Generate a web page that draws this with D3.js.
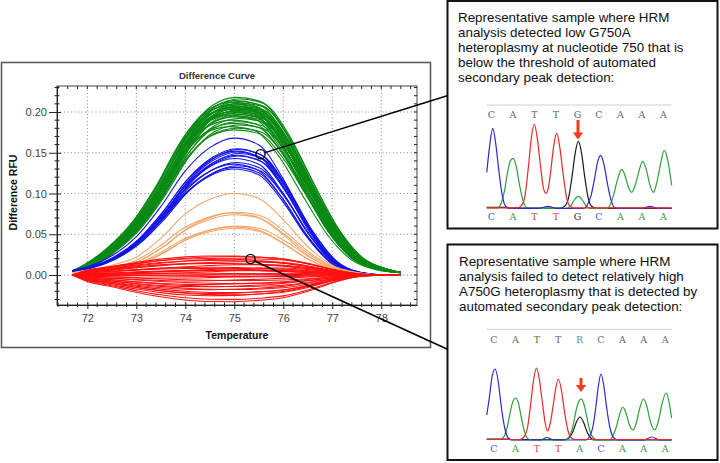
<!DOCTYPE html>
<html><head><meta charset="utf-8">
<script src="https://cdn.jsdelivr.net/npm/d3@7"></script>
<style>body{margin:0;background:#fff}svg{display:block}</style>
</head><body>
<script>
// ---------- DATA ----------
const temps = [71.7, 72.0, 72.5, 73.0, 73.5, 74.0, 74.5, 75.0, 75.5, 76.0, 76.5, 77.0, 77.5, 78.0, 78.4];
const greenProfile  = [0.025, 0.056, 0.16, 0.31, 0.53, 0.79, 0.95, 0.995, 0.97, 0.80, 0.53, 0.27, 0.10, 0.035, 0.015];
const blueProfile   = [0.035, 0.06, 0.14, 0.28, 0.50, 0.76, 0.93, 1.0, 0.95, 0.70, 0.36, 0.11, 0.02, 0.0, 0.0];
const orangeProfile = [0.03, 0.06, 0.12, 0.22, 0.45, 0.75, 0.93, 1.0, 0.94, 0.68, 0.35, 0.12, 0.03, 0.0, 0.0];
const redEarly      = [0, 0.3, 0.52, 0.75, 0.92, 1.0, 0.98, 0.9, 0.78, 0.62, 0.4, 0.18, 0.04, 0, 0];
const redLate       = [0, 0.15, 0.3, 0.45, 0.6, 0.75, 0.88, 0.97, 1.0, 0.98, 0.75, 0.38, 0.1, 0.01, 0];

const greenPeaks = [0.219,0.217,0.215,0.214,0.213,0.212,0.211,0.210,0.209,0.208,0.208,0.207,0.206,0.206,0.205,0.204,0.204,0.203,0.202,0.201,0.201,0.200,0.199,0.198,0.197,0.196,0.195,0.193,0.191,0.189,0.187,0.185,0.183,0.181,0.179];
const greenShift = [0.05,0.1,0.02,0.08,-0.04,0.12,0.0,0.06,-0.08,0.1,0.03,-0.02,0.09,-0.06,0.04,0.11,-0.1,0.07,0.01,-0.05,0.12,0.03,-0.03,0.08,-0.08,0.05,0.0,0.1,-0.06,0.06,-0.02,0.09,-0.1,0.04,0.0];
const bluePeaks = [0.168,0.155,0.154,0.152,0.151,0.149,0.147,0.146,0.143,0.138,0.136,0.134,0.132,0.130];
const blueShift = [0.0,0.05,0.08,0.02,0.06,0.1,0.04,0.07,0.0,0.03,-0.03,0.05,0.0,-0.02];
const orangePeaks = [0.100,0.077,0.076,0.074,0.060,0.059,0.057];
const orangeShift = [0.0,0.05,-0.05,0.02,0.06,-0.03,0.0];
const redE = [0.014,0.010,0.016,0.006,0.012,0.004,0.009,0.002,0.007,-0.002,0.004,0.001,-0.004,0.003,-0.003,0.000,-0.006,-0.002,-0.008,-0.004,-0.010,-0.006,-0.012,-0.008,-0.013,-0.011,-0.015,-0.012,-0.017,-0.016,-0.018,0.008,-0.001,0.011];
const redL = [0.011,0.014,0.005,0.015,0.007,0.013,0.006,0.011,0.003,0.010,0.002,0.005,0.009,-0.001,0.004,-0.002,0.003,-0.005,0.001,-0.007,-0.002,-0.009,-0.003,-0.011,-0.006,-0.012,-0.009,-0.014,-0.010,-0.016,-0.017,0.000,0.001,0.004];

const xTicks = [72, 73, 74, 75, 76, 77, 78];
const yTicks = [0.00, 0.05, 0.10, 0.15, 0.20];

// chromatogram data: [base index, signal height]
const seqTop1 = ["C","A","T","T","G","C","A","A","A"];
const seqBot1 = ["C","A","T","T","G","C","A","A","A"];
const seqTop2 = ["C","A","T","T","R","C","A","A","A"];
const seqBot2 = ["C","A","T","T","A","C","A","A","A"];
const blue1 = [[-0.22,36],[-0.1,60],[0.06,80],[0.2,64],[0.34,38],[0.5,13],[0.66,2],[0.85,0],[2.2,0],[2.64,2],[3.0,0],[4.3,0],[4.45,3],[4.62,12],[4.78,28],[4.93,46],[5.08,53],[5.23,44],[5.38,26],[5.55,9],[5.72,1],[5.9,0],[7.0,0],[7.37,2],[7.75,0],[8.38,0]];
const green1 = [[-0.22,0.5],[0.3,0.5],[0.45,5],[0.6,17],[0.74,35],[0.87,47],[1.01,50],[1.15,42],[1.29,25],[1.45,9],[1.62,1],[1.8,0],[3.5,0],[3.7,3],[3.87,9],[4.04,12],[4.21,9],[4.38,3],[4.6,0],[5.4,0],[5.55,5],[5.7,15],[5.85,28],[6.06,39],[6.22,32],[6.37,21],[6.52,16],[6.67,22],[6.82,34],[7.03,47],[7.2,39],[7.36,24],[7.53,16],[7.68,25],[7.84,42],[8.04,58],[8.2,48],[8.38,23]];
const red1 = [[-0.22,0.5],[1.2,0.5],[1.4,3],[1.57,14],[1.72,42],[1.85,70],[1.99,84],[2.13,70],[2.27,44],[2.4,22],[2.53,15],[2.66,22],[2.76,38],[2.89,62],[3.03,75],[3.17,62],[3.31,38],[3.48,12],[3.65,2],[3.8,0.5],[8.38,0.5]];
const black1 = [[-0.22,1],[0.6,1],[0.8,0.3],[3.2,0.3],[3.4,2],[3.6,12],[3.76,34],[3.89,55],[4.04,67],[4.19,55],[4.32,34],[4.49,11],[4.66,2],[4.85,0],[8.38,0]];
const blue2 = [[-0.34,25],[-0.22,42],[-0.1,62],[0.05,71],[0.2,58],[0.33,35],[0.5,12],[0.67,2],[0.85,0],[2.2,0],[2.46,2.5],[2.8,0],[4.3,0],[4.45,3],[4.62,13],[4.76,33],[4.87,53],[5.0,66],[5.14,53],[5.26,33],[5.42,12],[5.6,2],[5.8,0],[7.0,0],[7.37,3],[7.75,0],[8.3,0]];
const green2 = [[-0.34,0.5],[0.3,0.5],[0.48,4],[0.63,14],[0.77,29],[0.89,39],[1.01,42],[1.14,37],[1.28,22],[1.43,8],[1.6,1],[1.8,0],[3.3,0],[3.5,3],[3.67,12],[3.8,26],[3.93,37],[4.07,41],[4.2,36],[4.33,24],[4.48,9],[4.65,2],[4.85,0],[5.4,0],[5.55,4],[5.7,12],[5.85,24],[6.01,33],[6.17,27],[6.33,15],[6.5,10],[6.65,17],[6.8,31],[6.98,41],[7.14,34],[7.3,19],[7.5,10],[7.66,17],[7.84,35],[8.04,47],[8.18,38],[8.3,22]];
const red2 = [[-0.34,0.5],[1.2,0.5],[1.4,3],[1.57,13],[1.72,37],[1.85,60],[1.99,72],[2.13,59],[2.27,36],[2.4,16],[2.5,9],[2.62,16],[2.76,34],[2.88,51],[3.01,61],[3.15,50],[3.29,29],[3.45,10],[3.62,2],[3.8,0.5],[8.3,0.5]];
const black2 = [[-0.34,1],[0.6,1],[0.8,0.3],[3.3,0.3],[3.5,2],[3.68,8],[3.85,18],[4.02,23],[4.18,18],[4.35,8],[4.52,2],[4.7,0],[8.3,0]];

const text1 = ["Representative sample where HRM","analysis detected low G750A","heteroplasmy at nucleotide 750 that is","below the threshold of automated","secondary peak detection:"];
const text2 = ["Representative sample where HRM","analysis failed to detect relatively high","A750G heteroplasmy that is detected by","automated secondary peak detection:"];

// ---------- DRAW ----------
const svg = d3.select("body").append("svg").attr("width",720).attr("height",463);
svg.append("rect").attr("width",720).attr("height",463).attr("fill","#fff");

// chart frame
svg.append("rect").attr("x",1.5).attr("y",62.5).attr("width",429).attr("height",285)
  .attr("fill","none").attr("stroke","#555").attr("stroke-width",1.5);

const L=57, R=417, T=86, B=305;
const x = d3.scaleLinear().domain([71.38,78.73]).range([L,R]);
const y = d3.scaleLinear().domain([-0.0368,0.2319]).range([B,T]);

const font = "'Liberation Sans', Arial, sans-serif";

// grid
const g = svg.append("g");
g.selectAll(".gx").data(xTicks).enter().append("line")
  .attr("x1",d=>x(d)).attr("x2",d=>x(d)).attr("y1",T).attr("y2",B)
  .attr("stroke","#8a8a8a").attr("stroke-width",1).attr("stroke-dasharray","1,2.5");
g.selectAll(".gy").data(yTicks).enter().append("line")
  .attr("x1",L).attr("x2",R).attr("y1",d=>y(d)).attr("y2",d=>y(d))
  .attr("stroke","#8a8a8a").attr("stroke-width",1).attr("stroke-dasharray","1,2.5");

// curves
svg.append("clipPath").attr("id","pc").append("rect").attr("x",L).attr("y",T).attr("width",R-L).attr("height",B-T);
const cg = svg.append("g").attr("clip-path","url(#pc)");
const line = d3.line().x(d=>x(d[0])).y(d=>y(d[1])).curve(d3.curveMonotoneX);
function curvePts(profile, amp, shift){
  return temps.map((t,i)=>[ (i===0||i===temps.length-1)? t : t+shift, amp*profile[i] ]);
}
greenPeaks.forEach((a,i)=>cg.append("path").attr("d",line(curvePts(greenProfile,a,greenShift[i])))
  .attr("fill","none").attr("stroke","#0a8a14").attr("stroke-width",1.1));
bluePeaks.forEach((a,i)=>cg.append("path").attr("d",line(curvePts(blueProfile,a,blueShift[i])))
  .attr("fill","none").attr("stroke","#1414e6").attr("stroke-width",1.1));
orangePeaks.forEach((a,i)=>cg.append("path").attr("d",line(curvePts(orangeProfile,a,orangeShift[i])))
  .attr("fill","none").attr("stroke","#f2a66a").attr("stroke-width",1.1));
redE.forEach((e,i)=>{
  const pts = temps.map((t,k)=>[t, e*redEarly[k] + redL[i]*redLate[k]]);
  cg.append("path").attr("d",line(pts)).attr("fill","none").attr("stroke","#ff1010").attr("stroke-width",1.05);
});

// plot border
svg.append("rect").attr("x",L).attr("y",T).attr("width",R-L).attr("height",B-T)
  .attr("fill","none").attr("stroke","#444").attr("stroke-width",1);

// axes
const ax = svg.append("g").attr("transform",`translate(0,${B})`)
  .call(d3.axisBottom(x).tickValues(xTicks).tickFormat(d3.format("d")).tickSizeInner(4).tickSizeOuter(0).tickPadding(5));
ax.select(".domain").attr("stroke","#222");
ax.selectAll(".tick line").attr("y1",-3).attr("stroke","#222");
ax.selectAll("text").attr("font-family",font).attr("font-size",11).attr("fill","#444");
const ay = svg.append("g").attr("transform",`translate(${L},0)`)
  .call(d3.axisLeft(y).tickValues(yTicks).tickFormat(d3.format(".2f")).tickSizeInner(8).tickSizeOuter(0).tickPadding(2));
ay.select(".domain").attr("stroke","#222");
ay.selectAll(".tick line").attr("x1",4).attr("stroke","#222");
ay.selectAll("text").attr("font-family",font).attr("font-size",11).attr("fill","#444");

// minor ticks
const xMinor = d3.range(71.4, 78.71, 0.2).filter(v=>Math.abs(v-Math.round(v))>0.01);
const yMinor = d3.range(-0.03, 0.2301, 0.01).filter(v=>Math.abs(v*20-Math.round(v*20))>0.01);
const mt = svg.append("g").attr("stroke","#222").attr("stroke-width",1);
mt.selectAll(".xb").data(xMinor).enter().append("line").attr("x1",d=>x(d)).attr("x2",d=>x(d)).attr("y1",B-2.5).attr("y2",B+2);
mt.selectAll(".xt").data(xMinor.concat(xTicks)).enter().append("line").attr("x1",d=>x(d)).attr("x2",d=>x(d)).attr("y1",T).attr("y2",T+3);
mt.selectAll(".yl").data(yMinor).enter().append("line").attr("y1",d=>y(d)).attr("y2",d=>y(d)).attr("x1",L-2.5).attr("x2",L+2.5);
mt.selectAll(".yr").data(yMinor.concat(yTicks)).enter().append("line").attr("y1",d=>y(d)).attr("y2",d=>y(d)).attr("x1",R-3).attr("x2",R);

// titles
svg.append("text").attr("x",217).attr("y",78.5).attr("text-anchor","middle")
  .attr("font-family",font).attr("font-weight","bold").attr("font-size",9.5).attr("fill","#333").text("Difference Curve");
svg.append("text").attr("x",237).attr("y",339).attr("text-anchor","middle")
  .attr("font-family",font).attr("font-weight","bold").attr("font-size",10.5).attr("fill","#111").text("Temperature");
svg.append("text").attr("transform","translate(17,192.5) rotate(-90)").attr("text-anchor","middle")
  .attr("font-family",font).attr("font-weight","bold").attr("font-size",10.5).attr("fill","#111").text("Difference RFU");

// callout boxes
svg.append("rect").attr("x",447.5).attr("y",1).attr("width",270).attr("height",227.5)
  .attr("fill","#fff").attr("stroke","#111").attr("stroke-width",2);
svg.append("rect").attr("x",447.5).attr("y",244.5).attr("width",270).attr("height",215.5)
  .attr("fill","#fff").attr("stroke","#111").attr("stroke-width",2);

// callout lines and circles
svg.append("line").attr("x1",265).attr("y1",152.6).attr("x2",448).attr("y2",95.5).attr("stroke","#000").attr("stroke-width",1.5);
svg.append("line").attr("x1",254.5).attr("y1",261).attr("x2",448).attr("y2",349.5).attr("stroke","#000").attr("stroke-width",1.5);
svg.append("circle").attr("cx",260.5).attr("cy",154.2).attr("r",4.6).attr("fill","none").attr("stroke","#000").attr("stroke-width",1.4);
svg.append("circle").attr("cx",250.5).attr("cy",259).attr("r",4.6).attr("fill","none").attr("stroke","#000").attr("stroke-width",1.4);

// box texts
function para(lines, x0, y0){
  svg.append("g").selectAll("text").data(lines).enter().append("text")
    .attr("x",x0).attr("y",(d,i)=>y0+i*15.1)
    .attr("font-family",font).attr("font-size",13.4).attr("fill","#111").text(d=>d);
}
para(text1, 458, 21.5);
para(text2, 459, 265.5);

// chromatograms
const baseCol = {C:"#4a56dc",A:"#3a9c3a",T:"#e04444",G:"#333333",R:"#3a9aa6"};
function chrom(cfg){
  const cx = d3.scaleLinear().domain([0,8]).range(cfg.xr);
  const cy = v=>cfg.base - v;
  const grp = svg.append("g");
  grp.append("line").attr("x1",cfg.lx[0]).attr("x2",cfg.lx[1]).attr("y1",cfg.refY).attr("y2",cfg.refY)
    .attr("stroke","#cfcfcf").attr("stroke-width",1);
  grp.selectAll(".tl").data(cfg.top).enter().append("text")
    .attr("x",(d,i)=>cx(i)).attr("y",cfg.topY).attr("text-anchor","middle")
    .attr("font-family","'DejaVu Serif', serif").attr("font-size",9.5)
    .attr("fill",d=>d==="R"?baseCol.R:"#666").text(d=>d);
  grp.selectAll(".bl").data(cfg.bot).enter().append("text")
    .attr("x",(d,i)=>cx(i)).attr("y",cfg.botY).attr("text-anchor","middle")
    .attr("font-family","'DejaVu Serif', serif").attr("font-size",9.5)
    .attr("fill",d=>baseCol[d]).text(d=>d);
  const ln = d3.line().x(d=>cx(d[0])).y(d=>cy(d[1])).curve(d3.curveMonotoneX);
  cfg.traces.forEach(t=>grp.append("path").attr("d",ln(t.pts)).attr("fill","none")
    .attr("stroke",t.c).attr("stroke-width",1.2));
  // arrow
  const ax0 = cfg.arrow[0], at = cfg.arrow[1], ab = cfg.arrow[2];
  grp.append("rect").attr("x",ax0-1.5).attr("y",at).attr("width",3).attr("height",ab-at-6)
    .attr("fill","#f03c1c");
  grp.append("path").attr("d",`M${ax0-5.2},${ab-7}L${ax0+5.2},${ab-7}L${ax0},${ab}Z`).attr("fill","#f03c1c");
}
chrom({xr:[491.5,663.5], base:208.3, refY:105, lx:[486.7,671.7], topY:117.5, botY:220,
  top:seqTop1, bot:seqBot1, arrow:[578,120,139.5],
  traces:[{pts:black1,c:"#1a1a1a"},{pts:green1,c:"#2e9e3a"},{pts:blue1,c:"#2a2ad6"},{pts:red1,c:"#e42a2a"}]});
chrom({xr:[494,665.2], base:440, refY:329.3, lx:[486.7,672.3], topY:342.5, botY:452,
  top:seqTop2, bot:seqBot2, arrow:[581,378,392],
  traces:[{pts:black2,c:"#1a1a1a"},{pts:green2,c:"#2e9e3a"},{pts:blue2,c:"#2a2ad6"},{pts:red2,c:"#e42a2a"}]});
</script>
</body></html>
